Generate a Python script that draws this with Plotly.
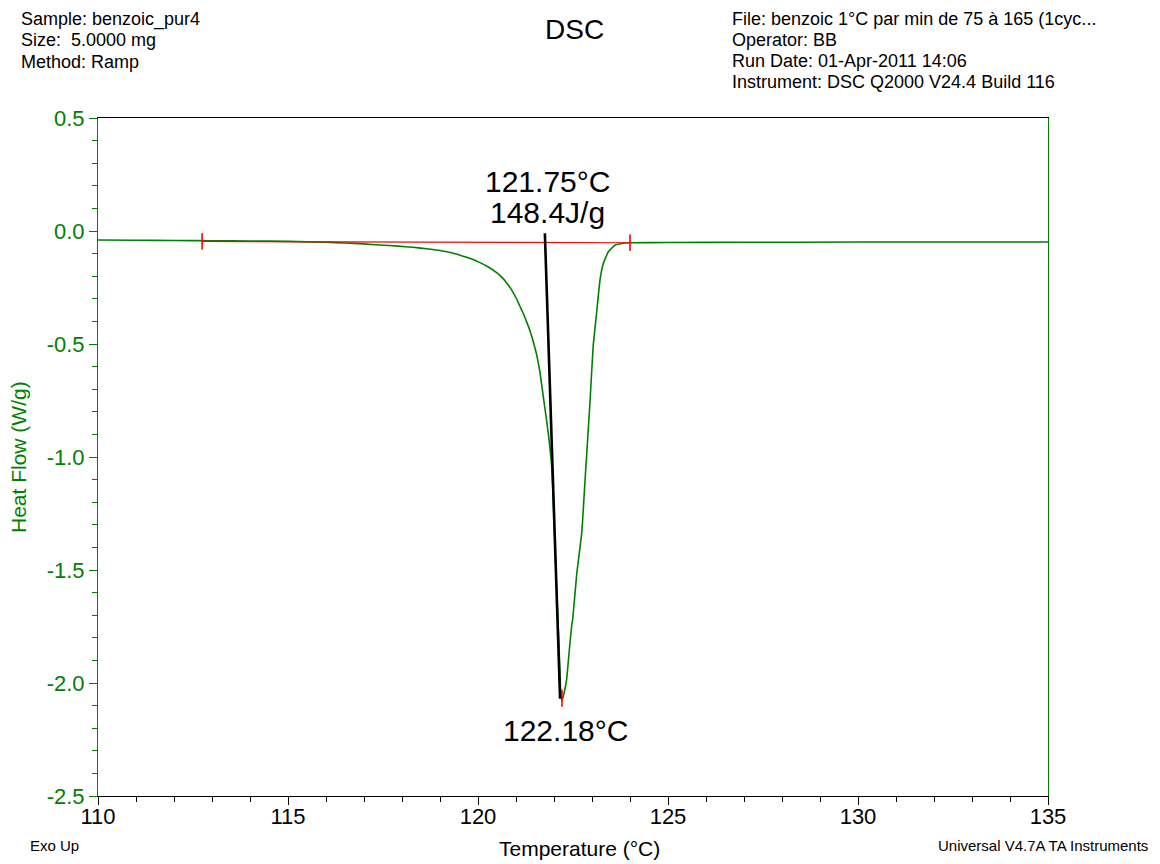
import plotly.graph_objects as go

# ---- data ----
temperature = [110.0, 111.0, 112.0, 113.0, 114.0, 115.0, 116.0, 116.5, 117.0, 117.42, 117.9,
               118.29, 118.7, 119.18, 119.4, 119.61, 119.85, 120.05, 120.25, 120.49, 120.62,
               120.76, 120.9, 121.02, 121.1, 121.19, 121.28, 121.37, 121.46, 121.54, 121.63,
               121.72, 121.85, 121.94, 121.98, 122.05, 122.13, 122.18, 122.21, 122.24,
               122.33, 122.38, 122.42, 122.47, 122.49, 122.60, 122.73, 122.82, 122.86, 122.95,
               123.03, 123.12, 123.21, 123.30, 123.43, 123.61, 123.82, 124.0, 125.0, 127.0,
               130.0, 133.0, 135.0]
heat_flow = [-0.040, -0.041, -0.042, -0.043, -0.044, -0.046, -0.050, -0.053, -0.057, -0.062, -0.067,
             -0.072, -0.080, -0.092, -0.101, -0.112, -0.125, -0.140, -0.157, -0.184, -0.203,
             -0.231, -0.265, -0.302, -0.332, -0.364, -0.402, -0.442, -0.493, -0.545, -0.625,
             -0.735, -0.895, -1.043, -1.190, -1.500, -1.830, -2.050, -2.075, -2.061,
             -1.987, -1.898, -1.823, -1.740, -1.721, -1.515, -1.336, -1.095, -0.990, -0.748,
             -0.512, -0.364, -0.217, -0.143, -0.092, -0.062, -0.054, -0.052, -0.051, -0.050,
             -0.049, -0.049, -0.049]

baseline_t = [112.74, 124.0]
baseline_hf = [-0.046, -0.052]
onset_line_t = [121.76, 122.16]
onset_line_hf = [-0.010, -2.070]
peak_t = 122.18
peak_hf = -2.07
onset_t = 121.75
enthalpy = 148.4

header_left = ["Sample: benzoic_pur4", "Size:  5.0000 mg", "Method: Ramp"]
header_right = ["File: benzoic 1°C par min de 75 à 165 (1cyc...", "Operator: BB",
                "Run Date: 01-Apr-2011 14:06", "Instrument: DSC Q2000 V24.4 Build 116"]

FONT = "Arial, 'Liberation Sans', sans-serif"
GREEN = "#008000"
RED = "#ff0000"

fig = go.Figure()

fig.add_trace(go.Scatter(x=temperature, y=heat_flow, mode="lines",
                         line=dict(color=GREEN, width=1.6, shape="spline", smoothing=0.4),
                         hoverinfo="skip"))
fig.add_trace(go.Scatter(x=baseline_t, y=baseline_hf, mode="lines",
                         line=dict(color=RED, width=1.2), hoverinfo="skip"))
tick_half = 0.036
tx, ty = [], []
for t, h in [(baseline_t[0], baseline_hf[0]), (baseline_t[1], baseline_hf[1])]:
    tx += [t, t, None]
    ty += [h - tick_half, h + tick_half, None]
tx += [peak_t + 0.03, peak_t + 0.03, None]
ty += [peak_hf + 0.04, peak_hf - 0.035, None]
fig.add_trace(go.Scatter(x=tx, y=ty, mode="lines", line=dict(color=RED, width=1.6),
                         hoverinfo="skip"))
fig.add_trace(go.Scatter(x=onset_line_t, y=onset_line_hf, mode="lines",
                         line=dict(color="black", width=2.6), hoverinfo="skip"))

# page offset of the figure (body margin) and plot-area geometry in page pixels
OFF = 8
L, R, T, B = 98, 1048, 118, 796
W, H = R - L, B - T
FIG_W, FIG_H = 1160 - OFF, 864 - OFF


def px(xp):
    return (xp - L) / W


def py(yp):
    return (B - yp) / H


def text_ann(xp, yp, s, size, color="black", xanchor="center", angle=0):
    return dict(x=px(xp), y=py(yp), xref="paper", yref="paper", text=s, showarrow=False,
                xanchor=xanchor, yanchor="middle", textangle=angle, borderpad=0,
                font=dict(size=size, color=color, family=FONT))


ann = []
for yy, s in [(0.221, f"{onset_t:.2f}°C"), (0.080, f"{enthalpy:.1f}J/g")]:
    ann.append(dict(x=121.82, y=yy, xref="x", yref="y", text=s, showarrow=False,
                    xanchor="center", yanchor="middle",
                    font=dict(size=30, color="black", family=FONT)))
ann.append(dict(x=122.29, y=-2.21, xref="x", yref="y", text=f"{peak_t:.2f}°C", showarrow=False,
                xanchor="center", yanchor="middle", font=dict(size=30, color="black", family=FONT)))

for i, s in enumerate(header_left):
    ann.append(text_ann(20, 19 + 21.5 * i, s, 18, xanchor="left"))
for i, s in enumerate(header_right):
    ann.append(text_ann(731, 19 + 21 * i, s, 18, xanchor="left"))
ann.append(text_ann(574, 30, "DSC", 28))
ann.append(text_ann(579, 848, "Temperature (°C)", 21))
ann.append(text_ann(18, 457, "Heat Flow (W/g)", 21, color=GREEN, angle=-90))
ann.append(text_ann(29, 845, "Exo Up", 15, xanchor="left"))
ann.append(text_ann(1149, 845, "Universal V4.7A TA Instruments", 15, xanchor="right"))

fig.update_layout(
    width=FIG_W, height=FIG_H,
    margin=dict(l=L - OFF, r=1160 - R, t=T - OFF, b=864 - B, pad=0),
    paper_bgcolor="white", plot_bgcolor="white",
    showlegend=False,
    annotations=ann,
    font=dict(family=FONT),
    xaxis=dict(range=[110, 135], tickvals=[110, 115, 120, 125, 130, 135],
               showgrid=False, zeroline=False, showline=True, linecolor="black", linewidth=1,
               mirror=True, ticks="outside", ticklen=8, tickcolor="black", tickwidth=1,
               ticklabelstandoff=-7,
               tickfont=dict(size=22, color="black", family=FONT),
               minor=dict(dtick=1, ticks="outside", ticklen=5, tickcolor="black", showgrid=False)),
    yaxis=dict(range=[-2.5, 0.5], tickvals=[-2.5, -2.0, -1.5, -1.0, -0.5, 0.0, 0.5],
               ticktext=["-2.5", "-2.0", "-1.5", "-1.0", "-0.5", "0.0", "0.5"],
               showgrid=False, zeroline=False, showline=True, linecolor=GREEN, linewidth=1,
               mirror=True, ticks="outside", ticklen=8, tickcolor=GREEN, tickwidth=1,
               tickfont=dict(size=22, color=GREEN, family=FONT),
               minor=dict(dtick=0.1, ticks="outside", ticklen=5, tickcolor=GREEN, showgrid=False)),
)

fig.write_html("out.html")
